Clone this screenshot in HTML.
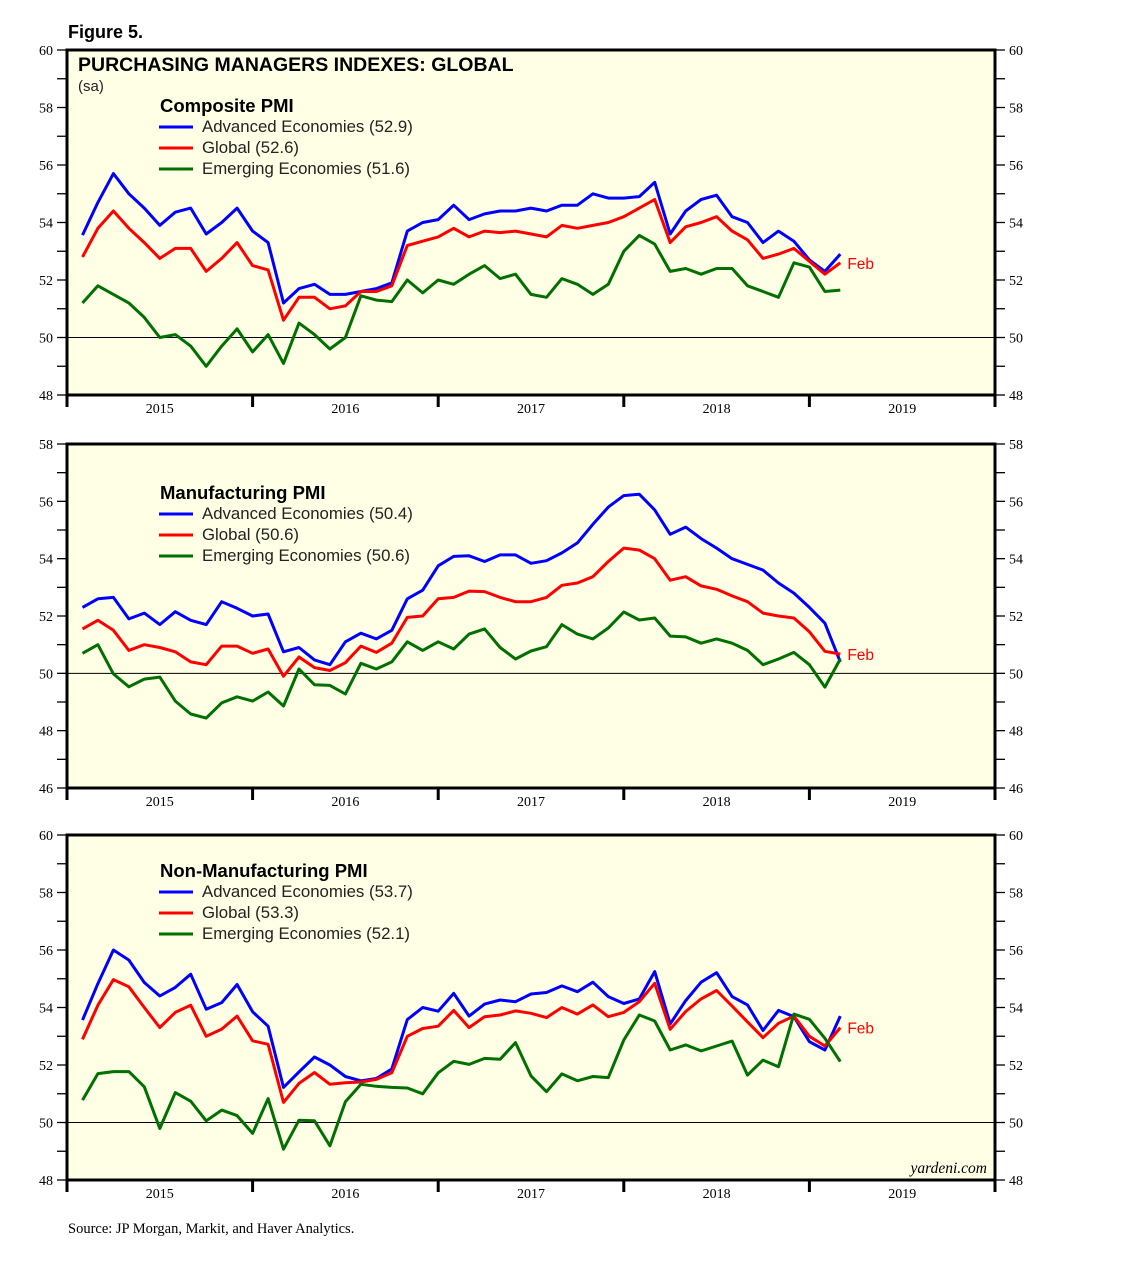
<!DOCTYPE html>
<html><head><meta charset="utf-8"><style>
body{margin:0;background:#fff;width:1138px;height:1274px;overflow:hidden}
svg{display:block}
text{font-family:"Liberation Sans",sans-serif}
.serif{font-family:"Liberation Serif",serif}
</style></head><body>
<svg id="chart" width="1138" height="1274" xmlns="http://www.w3.org/2000/svg">
<text x="68" y="38" font-size="18" font-weight="bold">Figure 5.</text>
<text x="68" y="1233" font-size="14.5" class="serif">Source: JP Morgan, Markit, and Haver Analytics.</text>
</svg>
<script>
const years = ["2015","2016","2017","2018","2019"];
const compAdv = [53.56,54.7,55.7,55.0,54.5,53.9,54.36,54.5,53.6,54.0,54.5,53.7,53.3,51.2,51.7,51.85,51.5,51.5,51.6,51.7,51.9,53.7,54.0,54.1,54.6,54.1,54.3,54.4,54.4,54.5,54.4,54.6,54.6,55.0,54.85,54.85,54.9,55.4,53.6,54.4,54.8,54.95,54.2,54.0,53.3,53.7,53.35,52.7,52.3,52.9];
const compGlb = [52.8,53.8,54.4,53.8,53.3,52.75,53.1,53.1,52.3,52.75,53.3,52.5,52.35,50.6,51.4,51.4,51.0,51.1,51.6,51.6,51.8,53.2,53.35,53.5,53.8,53.5,53.7,53.65,53.7,53.6,53.5,53.9,53.8,53.9,54.0,54.2,54.5,54.8,53.3,53.85,54.0,54.2,53.7,53.4,52.75,52.9,53.1,52.65,52.2,52.6];
const compEm = [51.2,51.8,51.5,51.2,50.7,50.0,50.1,49.7,49.0,49.7,50.3,49.5,50.1,49.1,50.5,50.1,49.6,50.0,51.45,51.3,51.25,52.0,51.55,52.0,51.85,52.2,52.5,52.05,52.2,51.5,51.4,52.05,51.85,51.5,51.85,53.0,53.55,53.25,52.3,52.4,52.2,52.4,52.4,51.8,51.6,51.4,52.6,52.45,51.6,51.65];
const mfgAdv = [52.3,52.6,52.65,51.9,52.1,51.7,52.15,51.85,51.7,52.5,52.27,52.0,52.07,50.75,50.9,50.47,50.3,51.1,51.4,51.2,51.5,52.6,52.9,53.75,54.08,54.1,53.9,54.13,54.13,53.84,53.93,54.2,54.55,55.2,55.8,56.2,56.25,55.7,54.85,55.1,54.7,54.37,54.0,53.8,53.6,53.15,52.8,52.3,51.75,50.4];
const mfgGlb = [51.55,51.85,51.5,50.8,51.0,50.9,50.75,50.4,50.3,50.95,50.95,50.7,50.85,49.9,50.57,50.2,50.1,50.37,50.95,50.73,51.05,51.95,52.0,52.6,52.65,52.87,52.85,52.65,52.5,52.5,52.65,53.07,53.15,53.37,53.9,54.37,54.3,54.0,53.25,53.37,53.05,52.93,52.7,52.5,52.1,52.0,51.93,51.45,50.77,50.67];
const mfgEm = [50.7,51.0,49.98,49.53,49.8,49.87,49.03,48.58,48.44,48.97,49.18,49.03,49.35,48.86,50.15,49.6,49.58,49.28,50.35,50.15,50.4,51.1,50.8,51.1,50.85,51.37,51.55,50.9,50.5,50.78,50.93,51.7,51.37,51.2,51.58,52.14,51.86,51.93,51.3,51.27,51.05,51.2,51.05,50.8,50.3,50.5,50.73,50.3,49.52,50.5];
const nmAdv = [53.56,54.83,56.0,55.65,54.87,54.4,54.7,55.16,53.94,54.17,54.8,53.85,53.35,51.22,51.76,52.28,52.0,51.6,51.45,51.53,51.86,53.58,54.0,53.87,54.49,53.7,54.12,54.26,54.2,54.47,54.52,54.75,54.55,54.88,54.38,54.14,54.3,55.25,53.43,54.24,54.88,55.21,54.38,54.09,53.2,53.9,53.68,52.81,52.52,53.7];
const nmGlb = [52.89,54.08,54.97,54.72,54.0,53.3,53.83,54.08,53.0,53.25,53.7,52.84,52.72,50.7,51.36,51.74,51.33,51.38,51.41,51.5,51.73,53.0,53.27,53.35,53.9,53.3,53.68,53.74,53.88,53.8,53.65,54.0,53.77,54.09,53.68,53.83,54.2,54.84,53.24,53.86,54.3,54.59,54.05,53.5,52.95,53.45,53.7,53.0,52.66,53.3];
const nmEm = [50.78,51.7,51.77,51.77,51.24,49.79,51.04,50.74,50.06,50.43,50.24,49.62,50.83,49.07,50.08,50.06,49.19,50.72,51.33,51.26,51.22,51.2,51.0,51.73,52.13,52.02,52.23,52.2,52.78,51.62,51.07,51.69,51.45,51.6,51.56,52.87,53.74,53.53,52.52,52.7,52.49,52.66,52.83,51.65,52.17,51.94,53.77,53.59,52.93,52.12];

const NS="http://www.w3.org/2000/svg";
const svg=document.getElementById('chart');
function mk(tag,attrs,parent){const e=document.createElementNS(NS,tag);for(const k in attrs)e.setAttribute(k,attrs[k]);(parent||svg).appendChild(e);return e;}
const X0=67,X1=995;
const monthW=(X1-X0)/60;
function xScale(i){return X0+monthW*(i+1);}

function panel(cfg){
  const g=mk('g',{});
  
  
  const yScale=v=>cfg.top+(cfg.max-v)*(cfg.bot-cfg.top)/(cfg.max-cfg.min);
  const bg=mk('rect',{x:X0,y:cfg.top,width:X1-X0,height:cfg.bot-cfg.top,fill:'#ffffe6'},g);
  
  
  const ref=mk('line',{x1:X0,x2:X1,y1:yScale(50),y2:yScale(50),stroke:'#000','stroke-width':1},g);
  
  
  for(let v=cfg.min;v<=cfg.max;v++){
    const y=yScale(v);
    mk('line',{x1:X0-10,x2:X0,y1:y,y2:y,stroke:'#000','stroke-width':1.3},g);
    mk('line',{x1:X1,x2:X1+10,y1:y,y2:y,stroke:'#000','stroke-width':1.3},g);
    if(v%2===0){
      const t1=mk('text',{x:X0-14,y:y+5,'font-size':14,'text-anchor':'end',class:'serif'},g);t1.textContent=v;
      
      
      const t2=mk('text',{x:X1+14,y:y+5,'font-size':14,class:'serif'},g);t2.textContent=v;
      
      
    }
  }
  for(let k=0;k<=5;k++){
    const x=X0+k*12*monthW;
    mk('line',{x1:x,x2:x,y1:cfg.bot,y2:cfg.bot+12,stroke:'#000','stroke-width':3},g);
  }
  years.forEach((yr,k)=>{
    const t=mk('text',{x:X0+(k+0.5)*12*monthW,y:cfg.bot+18,'font-size':14,'text-anchor':'middle',class:'serif'},g);
    t.textContent=yr;
    
    
  });
  cfg.series.forEach(s=>{
    const p=mk('polyline',{points:s.data.map((v,i)=>xScale(i).toFixed(1)+','+yScale(v).toFixed(1)).join(' '),fill:'none',stroke:s.color,'stroke-width':3,'stroke-linejoin':'round'},g);
    
    
  });
  const feb=mk('text',{x:xScale(49)+7,y:yScale(cfg.series[1].data[49])+6,'font-size':15.5,fill:'#f00'},g);
  feb.textContent='Feb';
  
  
  mk('rect',{x:X0,y:cfg.top,width:X1-X0,height:cfg.bot-cfg.top,fill:'none',stroke:'#000','stroke-width':3},g);
  const lt=mk('text',{x:160,y:cfg.legY,'font-size':18.5,'font-weight':'bold'},g);
  lt.textContent=cfg.title;
  
  
  cfg.series.forEach((s,j)=>{
    const y=cfg.legY+20+j*21;
    const l=mk('line',{x1:159,x2:193,y1:y-5,y2:y-5,stroke:s.color,'stroke-width':3},g);
    
    
    const t=mk('text',{x:202,y:y,'font-size':16.8,fill:'#222'},g);
    t.textContent=s.label;
    
    
  });
  return g;
}
panel({name:'composite-panel',top:50,bot:395,min:48,max:60,legY:112,title:'Composite PMI',series:[
 {data:compAdv,color:'#0000ff',name:'composite-advanced-line',label:'Advanced Economies (52.9)'},
 {data:compGlb,color:'#ff0000',name:'composite-global-line',label:'Global (52.6)'},
 {data:compEm,color:'#007000',name:'composite-emerging-line',label:'Emerging Economies (51.6)'}]});
panel({name:'manufacturing-panel',top:444,bot:788,min:46,max:58,legY:499,title:'Manufacturing PMI',series:[
 {data:mfgAdv,color:'#0000ff',name:'manufacturing-advanced-line',label:'Advanced Economies (50.4)'},
 {data:mfgGlb,color:'#ff0000',name:'manufacturing-global-line',label:'Global (50.6)'},
 {data:mfgEm,color:'#007000',name:'manufacturing-emerging-line',label:'Emerging Economies (50.6)'}]});
panel({name:'non-manufacturing-panel',top:835,bot:1180,min:48,max:60,legY:877,title:'Non-Manufacturing PMI',series:[
 {data:nmAdv,color:'#0000ff',name:'nonmfg-advanced-line',label:'Advanced Economies (53.7)'},
 {data:nmGlb,color:'#ff0000',name:'nonmfg-global-line',label:'Global (53.3)'},
 {data:nmEm,color:'#007000',name:'nonmfg-emerging-line',label:'Emerging Economies (52.1)'}]});
const t1=mk('text',{x:78,y:71,'font-size':19.5,'font-weight':'bold'});
t1.textContent='PURCHASING MANAGERS INDEXES: GLOBAL';


const t2=mk('text',{x:78,y:91,'font-size':15,fill:'#222'});
t2.textContent='(sa)';


const w=mk('text',{x:987,y:1173,'font-size':15.5,'font-style':'italic','text-anchor':'end',class:'serif'});
w.textContent='yardeni.com';


</script>
</body></html>
